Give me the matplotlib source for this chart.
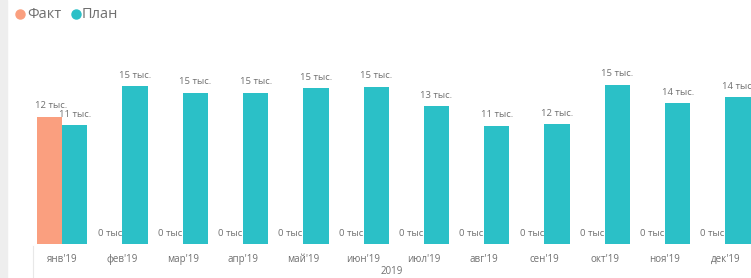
import matplotlib
matplotlib.use("Agg")
import matplotlib.pyplot as plt
from matplotlib.lines import Line2D
from matplotlib.patches import Rectangle
import numpy as np

plt.rcParams['font.family'] = ['Open Sans', 'DejaVu Sans']

months = ["янв'19", "фев'19", "мар'19", "апр'19", "май'19", "июн'19",
          "июл'19", "авг'19", "сен'19", "окт'19", "ноя'19", "дек'19"]
fact = [12260, 0, 0, 0, 0, 0, 0, 0, 0, 0, 0, 0]
plan = [11460, 15220, 14580, 14580, 15000, 15150, 13290, 11400, 11530, 15320, 13550, 14130]
series_names = ["Факт", "План"]
year_label = "2019"

fact_color = "#FA9F7F"
plan_color = "#2BC0C7"
text_color = "#707070"

W, H = 751, 278
fig = plt.figure(figsize=(W / 100, H / 100), dpi=100)
fig.patch.set_facecolor("white")

base_px = 244
top_px = 40
px_per_unit = 10.38 / 1000
ax = fig.add_axes([32 / W, (H - base_px) / H, 1 - 32 / W, (base_px - top_px) / H])
ax.set_xlim(-0.5, (751 - 62) / 60.3)
ax.set_ylim(0, (base_px - top_px) / px_per_unit)

x = np.arange(len(months))
w = 0.42
ax.bar(x - w / 2, fact, width=w, color=fact_color, zorder=2)
ax.bar(x + w / 2, plan, width=w, color=plan_color, zorder=2)

def fmt(v):
    return f"{int(round(v / 1000))} тыс."

off = 11 / px_per_unit
for xi, v in zip(x, fact):
    ax.text(xi - w / 2 + 0.02, v + off, fmt(v), ha="center", va="center",
            fontsize=6.8, color=text_color, zorder=1.5)
for xi, v in zip(x, plan):
    ax.text(xi + w / 2, v + off, fmt(v), ha="center", va="center",
            fontsize=6.8, color=text_color, zorder=3)

ax.set_xticks(x)
ax.set_xticklabels(months, fontsize=7, color=text_color)
ax.tick_params(axis="x", length=0, pad=7)
ax.set_yticks([])
for s in ax.spines.values():
    s.set_visible(False)
ax.patch.set_alpha(0)

# year label
fig.text(392 / W, 1 - 271 / H, year_label, ha="center", va="center",
         fontsize=7, color=text_color)

# left border strip and separator
fig.add_artist(Rectangle((0, 0), 7 / W, 1, transform=fig.transFigure,
                         color="#eeeeee", zorder=0))
fig.add_artist(Line2D([33 / W, 33 / W], [0, 1 - 246 / H], transform=fig.transFigure,
                      color="#e8e8e8", lw=0.8))

# legend
ly = 1 - 14 / H
for mx, tx, col, name in [(20, 27, fact_color, series_names[0]),
                          (76, 82, plan_color, series_names[1])]:
    fig.add_artist(Line2D([mx / W], [ly], marker="o", markersize=6.5,
                          color=col, transform=fig.transFigure, lw=0))
    fig.text(tx / W, ly, name, ha="left", va="center", fontsize=10.5,
             color=text_color)

fig.savefig("out.png", dpi=100)
